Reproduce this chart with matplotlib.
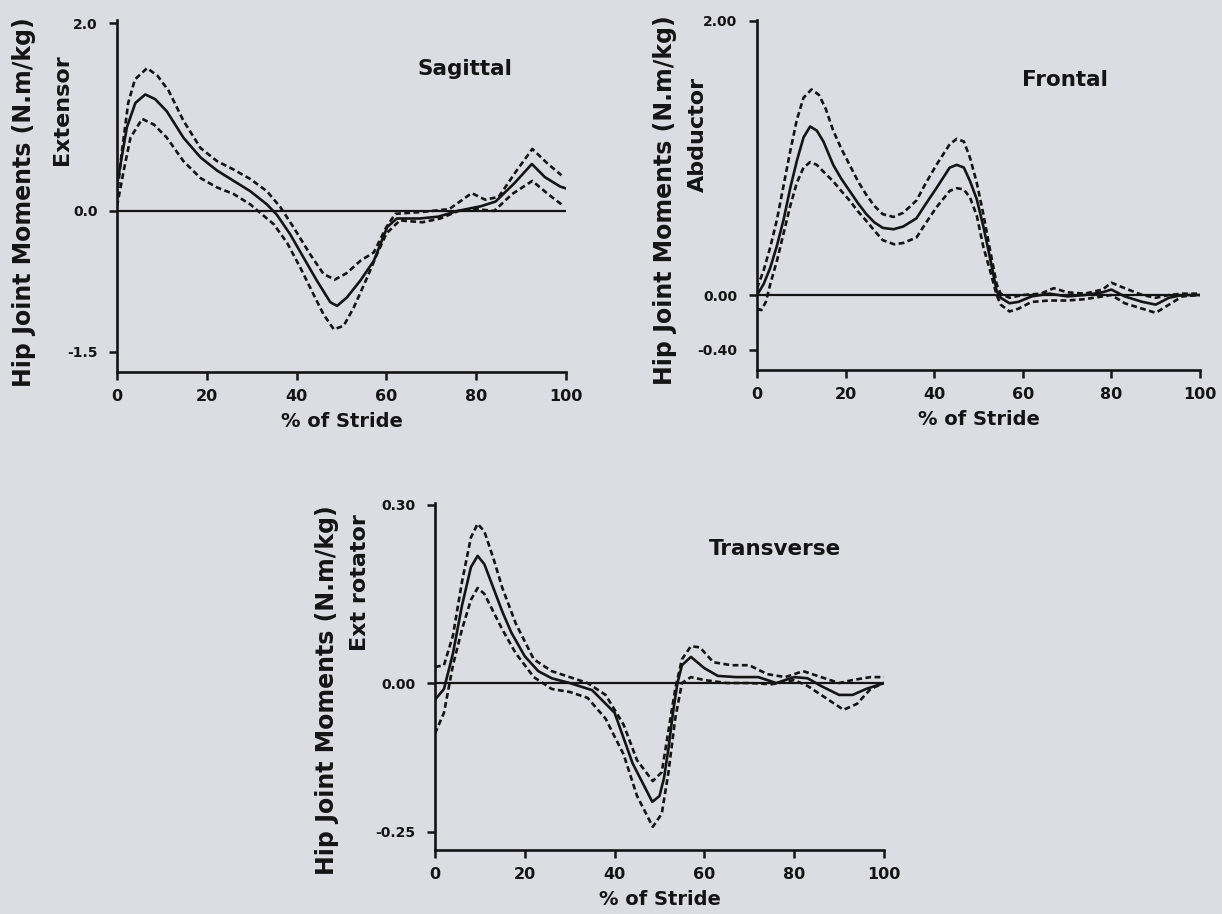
import matplotlib
matplotlib.use("Agg")
import matplotlib.pyplot as plt

# ---------------- data ----------------
# Sagittal
sag_mean_x = [0, 2.2, 4.1, 6.3, 8.5, 11.1, 14.8, 18.6, 22.3, 26, 29.7, 33.4, 35.6, 38.6, 41.6, 44.5, 47.5, 49, 51.2, 54.2, 57.2, 60.2, 62.3, 67.4, 71.6, 75.8, 81, 84.3, 88.6, 92.4, 95.3, 98.7, 100]
sag_mean_y = [0.28, 0.89, 1.15, 1.24, 1.19, 1.06, 0.78, 0.57, 0.43, 0.32, 0.21, 0.07, -0.04, -0.25, -0.50, -0.74, -0.97, -1.01, -0.92, -0.74, -0.53, -0.17, -0.08, -0.08, -0.06, 0.00, 0.05, 0.10, 0.30, 0.50, 0.36, 0.26, 0.24]
sag_up_x = [0, 1, 2.5, 4, 6.7, 9, 11.5, 14.8, 18.6, 22.3, 26, 29.7, 33.4, 36.4, 39.4, 43, 46, 48.5, 51.2, 54.2, 57.2, 60, 62, 68, 74, 79, 82, 85, 89, 92.5, 96, 99]
sag_up_y = [0.15, 0.60, 1.15, 1.40, 1.52, 1.44, 1.28, 0.96, 0.67, 0.53, 0.44, 0.34, 0.21, 0.04, -0.18, -0.46, -0.67, -0.73, -0.66, -0.53, -0.44, -0.17, -0.03, -0.01, 0.02, 0.19, 0.12, 0.15, 0.43, 0.66, 0.50, 0.38]
sag_lo_x = [0, 1.5, 3, 5.6, 8.2, 11.1, 14.8, 18.6, 22.3, 26, 29.7, 31.9, 34.9, 37.9, 40.8, 43.8, 46, 48.3, 50.5, 52.7, 55.7, 57.9, 60, 63, 68, 72, 76, 80, 84, 88, 92.5, 96, 99]
sag_lo_y = [0.05, 0.43, 0.78, 0.98, 0.92, 0.78, 0.53, 0.35, 0.25, 0.18, 0.07, -0.02, -0.14, -0.34, -0.60, -0.89, -1.10, -1.26, -1.22, -1.03, -0.71, -0.46, -0.24, -0.10, -0.12, -0.08, 0.00, 0.02, 0.00, 0.18, 0.32, 0.18, 0.07]

# Frontal
fro_mean_x = [0, 1.5, 3, 4.5, 6, 7.5, 9, 10.5, 12, 13.5, 15, 17.2, 19, 20.9, 22.8, 24.7, 26.5, 28.4, 30.8, 33, 36, 38, 40.5, 43.5, 45.1, 46.7, 48.1, 49.6, 51.1, 52.6, 54.1, 55, 57, 59, 62, 66, 70, 74, 78, 80, 83, 87, 90, 93, 96, 100]
fro_mean_y = [0.00, 0.08, 0.20, 0.36, 0.55, 0.78, 0.98, 1.15, 1.23, 1.20, 1.12, 0.95, 0.85, 0.76, 0.67, 0.59, 0.53, 0.49, 0.48, 0.50, 0.56, 0.66, 0.78, 0.93, 0.95, 0.93, 0.83, 0.70, 0.50, 0.27, 0.03, -0.02, -0.06, -0.05, -0.01, 0.01, -0.01, 0.00, 0.02, 0.04, -0.01, -0.05, -0.07, -0.02, 0.00, 0.00]
fro_up_x = [0, 1.5, 3, 4.5, 6, 7.5, 9, 10.5, 12.3, 14, 15.5, 17.2, 19, 20.9, 22.8, 24.7, 26.5, 28.4, 30.8, 33, 36, 38, 40.5, 43.5, 45.1, 46.7, 48.1, 49.6, 51.1, 52.6, 54.1, 55, 57, 60, 64, 67, 70, 74, 78, 80, 83, 87, 90, 93, 96, 100]
fro_up_y = [0.05, 0.18, 0.35, 0.55, 0.80, 1.05, 1.28, 1.44, 1.50, 1.46, 1.36, 1.20, 1.07, 0.95, 0.83, 0.73, 0.65, 0.59, 0.57, 0.60, 0.69, 0.81, 0.95, 1.10, 1.14, 1.12, 1.00, 0.82, 0.59, 0.33, 0.08, 0.01, -0.02, 0.00, 0.01, 0.05, 0.02, 0.01, 0.04, 0.09, 0.05, 0.00, -0.02, 0.00, 0.01, 0.01]
fro_lo_x = [0, 1, 2, 3, 4.5, 6, 7.5, 9, 10.5, 12, 13.5, 15, 17.2, 19, 20.9, 22.8, 24.7, 26.5, 28.4, 31, 33, 36, 38, 40.5, 43.5, 45.1, 46.7, 48.1, 49.6, 51.1, 52.6, 54.1, 55, 57, 59, 62, 66, 70, 74, 78, 80, 83, 87, 90, 93, 96, 100]
fro_lo_y = [-0.10, -0.11, -0.05, 0.08, 0.25, 0.45, 0.65, 0.82, 0.93, 0.97, 0.95, 0.90, 0.83, 0.76, 0.69, 0.61, 0.54, 0.47, 0.40, 0.37, 0.38, 0.42, 0.52, 0.64, 0.76, 0.78, 0.77, 0.71, 0.58, 0.35, 0.18, 0.00, -0.07, -0.12, -0.10, -0.05, -0.04, -0.04, -0.03, -0.01, 0.00, -0.06, -0.10, -0.13, -0.07, -0.01, 0.00]

# Transverse
tra_mean_x = [0, 2, 4, 6, 8, 9.5, 11, 13, 15, 17, 20, 23, 26, 30, 35, 40, 44, 48.4, 50, 51, 52, 53, 54, 55, 57, 60, 63, 67, 72, 76, 80, 83, 86, 90, 93, 96, 100]
tra_mean_y = [-0.028, -0.010, 0.050, 0.130, 0.195, 0.214, 0.200, 0.160, 0.120, 0.085, 0.045, 0.020, 0.008, 0.000, -0.012, -0.050, -0.135, -0.200, -0.190, -0.160, -0.110, -0.050, 0.000, 0.030, 0.044, 0.025, 0.012, 0.010, 0.010, 0.000, 0.010, 0.008, -0.005, -0.020, -0.020, -0.010, 0.000]
tra_up_x = [0, 2, 4, 6, 8, 9.5, 11, 13, 15, 18, 22, 26, 30, 34, 38, 42, 45, 48.5, 50.5, 52, 53.5, 55, 57, 59, 62, 66, 70, 74, 78, 82, 86, 90, 93, 97, 100]
tra_up_y = [0.027, 0.030, 0.080, 0.170, 0.245, 0.268, 0.255, 0.210, 0.160, 0.100, 0.040, 0.020, 0.010, 0.000, -0.020, -0.070, -0.130, -0.165, -0.150, -0.080, -0.010, 0.040, 0.062, 0.060, 0.035, 0.030, 0.030, 0.015, 0.010, 0.020, 0.010, 0.000, 0.005, 0.010, 0.010]
tra_lo_x = [0, 2, 4, 6, 8, 9.5, 11, 13, 15, 18, 22, 26, 30, 34, 38, 42, 45, 48.5, 50.5, 52, 53.5, 55, 57, 60, 65, 70, 75, 80, 83, 87, 91, 94, 97, 100]
tra_lo_y = [-0.085, -0.050, 0.030, 0.090, 0.140, 0.160, 0.150, 0.120, 0.090, 0.050, 0.010, -0.010, -0.015, -0.025, -0.060, -0.120, -0.190, -0.242, -0.220, -0.150, -0.060, 0.000, 0.010, 0.005, 0.000, 0.000, -0.002, 0.005, -0.005, -0.025, -0.045, -0.035, -0.010, 0.000]

xticks = [0, 20, 40, 60, 80, 100]
sag_yticks = [2.0, 0.0, -1.5]
sag_yticklabels = ["2.0", "0.0", "-1.5"]
fro_yticks = [2.0, 0.0, -0.4]
fro_yticklabels = ["2.00", "0.00", "-0.40"]
tra_yticks = [0.30, 0.0, -0.25]
tra_yticklabels = ["0.30", "0.00", "-0.25"]

titles = ["Sagittal", "Frontal", "Transverse"]
main_ylabel = "Hip Joint Moments (N.m/kg)"
sub_ylabels = ["Extensor", "Abductor", "Ext rotator"]
xlabel = "% of Stride"

# ---------------- styling ----------------
BG = "#DCDCE3"
INK = "#141414"
plt.rcParams["font.family"] = ["DejaVu Sans"]
plt.rcParams["font.weight"] = "bold"

fig = plt.figure(figsize=(12.22, 9.14), dpi=100, facecolor=BG)


def make_axes(rect, ylim, yticks, yticklabels):
    ax = fig.add_axes(rect)
    ax.set_facecolor(BG)
    ax.set_xlim(0, 100)
    ax.set_ylim(*ylim)
    for s in ("top", "right"):
        ax.spines[s].set_visible(False)
    for s in ("left", "bottom"):
        ax.spines[s].set_linewidth(1.9)
        ax.spines[s].set_color(INK)
    ax.set_xticks(xticks)
    ax.set_xticklabels([str(t) for t in xticks], fontsize=11.5, fontweight="bold", color=INK)
    ax.set_yticks(yticks)
    ax.set_yticklabels(yticklabels, fontsize=10, fontweight="bold", color=INK)
    ax.tick_params(axis="both", direction="out", length=6, width=1.8, color=INK)
    ax.tick_params(axis="y", pad=8)
    ax.tick_params(axis="x", pad=6)
    ax.axhline(0, color=INK, lw=1.6, zorder=1)
    ax.set_xlabel(xlabel, fontsize=14, fontweight="bold", color=INK, labelpad=6)
    return ax


def draw(ax, mx, my, ux, uy, lx, ly):
    dash = (0, (2.2, 1.3))
    kw = dict(color=INK, lw=1.9, solid_joinstyle="round", dash_joinstyle="round")
    ax.plot(ux, uy, linestyle=dash, zorder=3, **kw)
    ax.plot(lx, ly, linestyle=dash, zorder=3, **kw)
    ax.plot(mx, my, zorder=4, **kw)


ax1 = make_axes([0.09574, 0.59300, 0.36743, 0.38512], (-1.713, 2.032), sag_yticks, sag_yticklabels)
draw(ax1, sag_mean_x, sag_mean_y, sag_up_x, sag_up_y, sag_lo_x, sag_lo_y)

ax2 = make_axes([0.61948, 0.59519, 0.36252, 0.38293], (-0.547, 2.007), fro_yticks, fro_yticklabels)
draw(ax2, fro_mean_x, fro_mean_y, fro_up_x, fro_up_y, fro_lo_x, fro_lo_y)

ax3 = make_axes([0.35597, 0.07002, 0.36743, 0.37965], (-0.281, 0.303), tra_yticks, tra_yticklabels)
draw(ax3, tra_mean_x, tra_mean_y, tra_up_x, tra_up_y, tra_lo_x, tra_lo_y)

# titles inside the panels
title_pos = [(0.3805, 0.925), (0.8715, 0.912), (0.6342, 0.3993)]
for t, (x, y) in zip(titles, title_pos):
    fig.text(x, y, t, fontsize=15.5, fontweight="bold", color=INK, ha="center", va="center")

# y labels
main_pos = [(0.0196, 0.7785), (0.5442, 0.7812), (0.268, 0.245)]
for (x, y) in main_pos:
    fig.text(x, y, main_ylabel, rotation=90, fontsize=17, fontweight="bold", color=INK,
             ha="center", va="center")
sub_pos = [(0.0511, 0.880), (0.5708, 0.8534), (0.2942, 0.3627)]
for t, (x, y) in zip(sub_ylabels, sub_pos):
    fig.text(x, y, t, rotation=90, fontsize=16, fontweight="bold", color=INK,
             ha="center", va="center")

fig.savefig("out.png", dpi=100, facecolor=BG)
